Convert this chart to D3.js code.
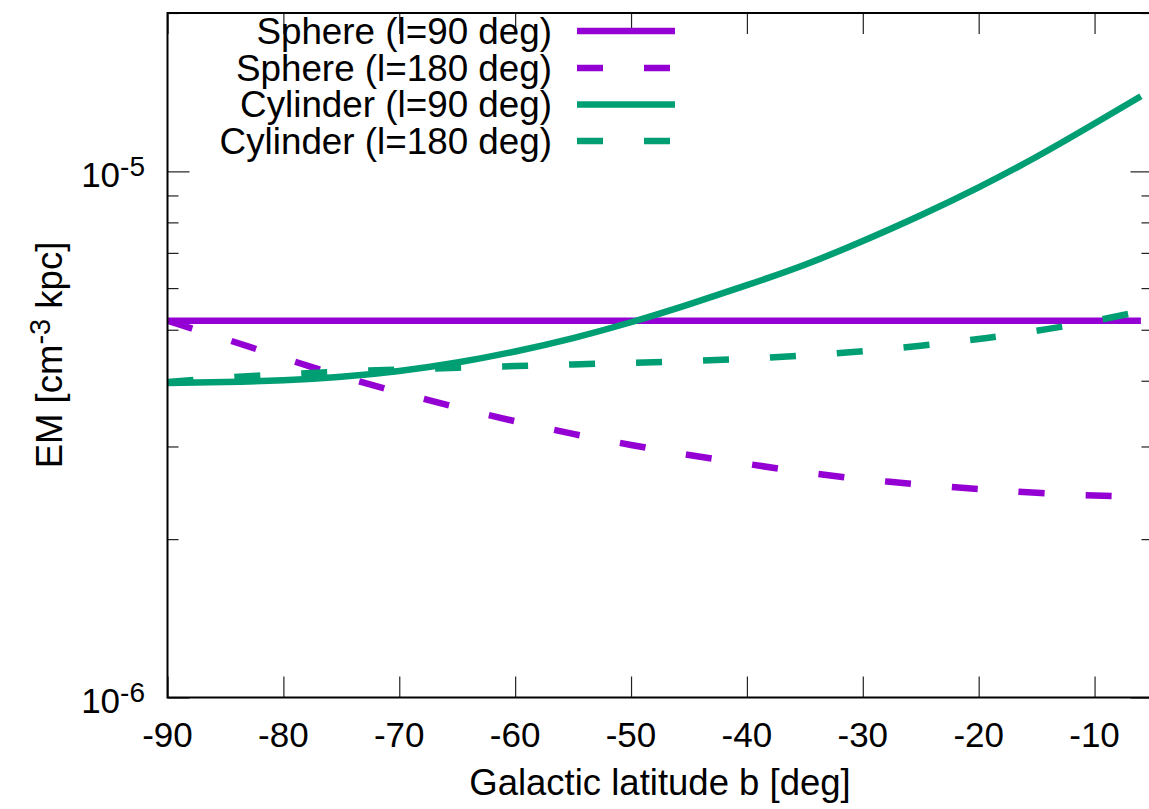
<!DOCTYPE html>
<html>
<head>
<meta charset="utf-8">
<script src="https://cdn.jsdelivr.net/npm/d3@7"></script>
<style>
  html, body { margin: 0; padding: 0; background: #fff; }
  svg { display: block; font-family: "Liberation Sans", Arial, Helvetica, sans-serif; }
</style>
</head>
<body>
<svg id="chart" width="1149" height="809"></svg>
<script>
// Galactic latitude samples (deg)
const latitudes = [-90, -85, -80, -75, -70, -65, -60, -55, -50, -45, -40, -35, -30, -25, -20, -15, -10, -6];

// Emission measure, cm^-3 kpc
const sphereL90 = [5.2e-6, 5.2e-6, 5.2e-6, 5.2e-6, 5.2e-6, 5.2e-6, 5.2e-6, 5.2e-6, 5.2e-6,
                   5.2e-6, 5.2e-6, 5.2e-6, 5.2e-6, 5.2e-6, 5.2e-6, 5.2e-6, 5.2e-6, 5.2e-6];
const sphereL180 = [5.2e-6, 4.8e-6, 4.42e-6, 4.08e-6, 3.8e-6, 3.56e-6, 3.35e-6, 3.17e-6, 3.02e-6,
                    2.89e-6, 2.78e-6, 2.68e-6, 2.6e-6, 2.54e-6, 2.49e-6, 2.45e-6, 2.42e-6, 2.41e-6];
const cylinderL90 = [3.96e-6, 3.978e-6, 4.01e-6, 4.071e-6, 4.175e-6, 4.332e-6, 4.547e-6, 4.822e-6, 5.167e-6,
                     5.587e-6, 6.077e-6, 6.646e-6, 7.374e-6, 8.255e-6, 9.327e-6, 1.066e-5, 1.233e-5, 1.389e-5];
const cylinderL180 = [3.98e-6, 4.054e-6, 4.115e-6, 4.163e-6, 4.201e-6, 4.235e-6, 4.266e-6, 4.296e-6, 4.325e-6,
                      4.36e-6, 4.406e-6, 4.469e-6, 4.552e-6, 4.664e-6, 4.801e-6, 4.977e-6, 5.201e-6, 5.421e-6];

const seriesNames = ["Sphere (l=90 deg)", "Sphere (l=180 deg)", "Cylinder (l=90 deg)", "Cylinder (l=180 deg)"];
const xTickValues = [-90, -80, -70, -60, -50, -40, -30, -20, -10];
const yMajorTicks = [1e-6, 1e-5];
const yMajorLabels = [["10", "-6"], ["10", "-5"]];
const yMinorTicks = [2e-6, 3e-6, 4e-6, 5e-6, 6e-6, 7e-6, 8e-6, 9e-6, 2e-5];
const xAxisTitle = "Galactic latitude b [deg]";

const purple = "#9400d3";
const green = "#009e73";
const series = [
  { name: seriesNames[0], values: sphereL90, color: purple, dash: null },
  { name: seriesNames[1], values: sphereL180, color: purple, dash: "26,41" },
  { name: seriesNames[2], values: cylinderL90, color: green, dash: null },
  { name: seriesNames[3], values: cylinderL180, color: green, dash: "26,41" }
];

const svg = d3.select("#chart");
const plotLeft = 167.5, plotRight = 1152.5, plotTop = 13, plotBottom = 697.5;

const x = d3.scaleLinear().domain([-90, -5]).range([plotLeft, plotRight]);
const y = d3.scaleLog().domain([1e-6, 2e-5]).range([plotBottom, plotTop]);

svg.append("defs").append("clipPath").attr("id", "plotClip")
  .append("rect").attr("x", plotLeft).attr("y", plotTop)
  .attr("width", plotRight - plotLeft).attr("height", plotBottom - plotTop);

// Ticks (bottom/top and left/right, pointing inward)
const tickColor = "#222";
const bottomAxis = svg.append("g").attr("transform", `translate(0,${plotBottom})`)
  .call(d3.axisTop(x).tickValues(xTickValues).tickSize(21).tickFormat(""));
const topAxis = svg.append("g").attr("transform", `translate(0,${plotTop})`)
  .call(d3.axisBottom(x).tickValues(xTickValues).tickSize(21).tickFormat(""));
const leftMajor = svg.append("g").attr("transform", `translate(${plotLeft},0)`)
  .call(d3.axisRight(y).tickValues(yMajorTicks).tickSize(22).tickFormat(""));
const leftMinor = svg.append("g").attr("transform", `translate(${plotLeft},0)`)
  .call(d3.axisRight(y).tickValues(yMinorTicks).tickSize(11).tickFormat(""));
const rightMajor = svg.append("g").attr("transform", `translate(${plotRight},0)`)
  .call(d3.axisLeft(y).tickValues(yMajorTicks).tickSize(22).tickFormat(""));
const rightMinor = svg.append("g").attr("transform", `translate(${plotRight},0)`)
  .call(d3.axisLeft(y).tickValues(yMinorTicks).tickSize(11).tickFormat(""));
[bottomAxis, topAxis, leftMajor, leftMinor, rightMajor, rightMinor].forEach(g => {
  g.select(".domain").remove();
  g.selectAll(".tick line").attr("stroke", tickColor).attr("stroke-width", 1.2);
});

// X tick labels
svg.append("g").selectAll("text").data(xTickValues).join("text")
  .attr("x", d => x(d)).attr("y", 747)
  .attr("text-anchor", "middle").attr("font-size", 35).attr("fill", "#000")
  .text(d => d);

// Y tick labels with superscript exponents
const yl = svg.append("g").selectAll("text").data(yMajorTicks).join("text")
  .attr("x", 145).attr("y", d => y(d) + 15.5)
  .attr("text-anchor", "end").attr("font-size", 35).attr("fill", "#000");
yl.append("tspan").text((d, i) => yMajorLabels[i][0]);
yl.append("tspan").attr("font-size", 28).attr("dy", -11).text((d, i) => yMajorLabels[i][1]);

// Axis titles
svg.append("text").attr("x", (plotLeft + plotRight) / 2).attr("y", 795)
  .attr("text-anchor", "middle").attr("font-size", 36.5).attr("fill", "#000")
  .text(xAxisTitle);

const yt = svg.append("text").attr("transform", "translate(62,355) rotate(-90)")
  .attr("text-anchor", "middle").attr("font-size", 36.5).attr("fill", "#000");
yt.append("tspan").text("EM [cm");
yt.append("tspan").attr("font-size", 29).attr("dy", -12).text("-3");
yt.append("tspan").attr("dy", 12).text(" kpc]");

// Curves
const line = d3.line()
  .x((d, i) => x(latitudes[i]))
  .y(d => y(d))
  .curve(d3.curveNatural);

const plot = svg.append("g").attr("clip-path", "url(#plotClip)");
series.forEach(s => {
  plot.append("path")
    .attr("d", line(s.values))
    .attr("fill", "none")
    .attr("stroke", s.color)
    .attr("stroke-width", 6.5)
    .attr("stroke-dasharray", s.dash)
    .attr("stroke-linejoin", "round");
});

// Legend
const legendRows = [31, 68, 104.5, 141];
const legend = svg.append("g");
series.forEach((s, i) => {
  legend.append("text").attr("x", 552).attr("y", legendRows[i] + 12.5)
    .attr("text-anchor", "end").attr("font-size", 36.8).attr("fill", "#000")
    .text(s.name);
  legend.append("line")
    .attr("x1", 577).attr("x2", 675)
    .attr("y1", legendRows[i]).attr("y2", legendRows[i])
    .attr("stroke", s.color).attr("stroke-width", 6.5)
    .attr("stroke-dasharray", s.dash);
});

// Frame
svg.append("rect").attr("x", plotLeft).attr("y", plotTop)
  .attr("width", plotRight - plotLeft).attr("height", plotBottom - plotTop)
  .attr("fill", "none").attr("stroke", "#000").attr("stroke-width", 2);
</script>
</body>
</html>
